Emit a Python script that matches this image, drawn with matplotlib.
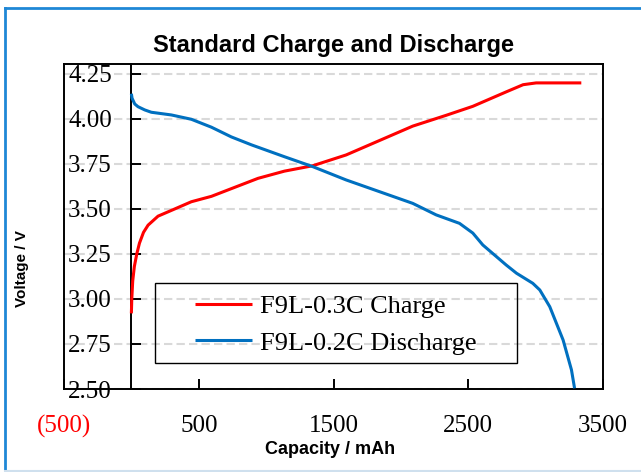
import matplotlib
matplotlib.use("Agg")
import matplotlib.pyplot as plt
from matplotlib.lines import Line2D
from matplotlib.patches import Rectangle

# -----------------------------
# Data
# -----------------------------
charge_cap = [0, 3, 10, 22, 40, 60, 90, 124, 198, 322, 445, 594, 767, 940,
              1136, 1346, 1594, 1841, 2088, 2336, 2534, 2781, 2907, 3004, 3339]
charge_v = [2.92, 3.00, 3.10, 3.18, 3.25, 3.31, 3.37, 3.41, 3.46, 3.50, 3.54,
            3.57, 3.62, 3.67, 3.71, 3.74, 3.80, 3.88, 3.96, 4.02, 4.07, 4.15,
            4.19, 4.20, 4.20]

discharge_cap = [0, 5, 25, 49, 99, 148, 297, 445, 594, 742, 891, 1136, 1346,
                 1594, 1841, 2088, 2262, 2435, 2534, 2608, 2781, 2858, 2979,
                 3031, 3105, 3204, 3266, 3289]
discharge_v = [4.14, 4.115, 4.083, 4.068, 4.05, 4.037, 4.022, 3.998, 3.954,
               3.90, 3.856, 3.79, 3.735, 3.661, 3.596, 3.531, 3.467, 3.42,
               3.366, 3.30, 3.189, 3.143, 3.087, 3.05, 2.957, 2.772, 2.606,
               2.504]

series_labels = ["F9L-0.3C Charge", "F9L-0.2C Discharge"]
series_colors = ["#ff0000", "#0070c0"]

x_ticks = [-500, 500, 1500, 2500, 3500]
x_tick_labels = ["(500)", "500", "1500", "2500", "3500"]
y_ticks = [2.50, 2.75, 3.00, 3.25, 3.50, 3.75, 4.00, 4.25]
y_tick_labels = ["2.50", "2.75", "3.00", "3.25", "3.50", "3.75", "4.00", "4.25"]

SANS = "Liberation Sans"
SERIF = "Liberation Serif"

W, H = 641, 472
fig = plt.figure(figsize=(W / 100, H / 100), dpi=100)
ax = fig.add_axes([64 / W, 1 - 389 / H, 539 / W, 325 / H])

# curves
ax.plot(charge_cap, charge_v, color=series_colors[0], lw=2.2,
        label=series_labels[0], solid_capstyle="butt", zorder=3)
ax.plot(discharge_cap, discharge_v, color=series_colors[1], lw=2.2,
        label=series_labels[1], solid_capstyle="butt", zorder=3)

ax.set_xlim(-500, 3500)
ax.set_ylim(2.5, 4.305)

# y axis sits at capacity 0, frame keeps its left border
ax.spines["left"].set_position(("data", 0))
for s in ax.spines.values():
    s.set_linewidth(1.4)
    s.set_color("black")
ax.add_line(Line2D([0, 0], [0, 1], transform=ax.transAxes, color="black",
                   lw=1.4, clip_on=False))

ax.set_xticks(x_ticks)
ax.set_xticklabels(x_tick_labels, fontfamily=SERIF, fontsize=18)
ax.get_xticklabels()[0].set_color("#ff0000")
ax.set_yticks(y_ticks)
ax.set_yticklabels(y_tick_labels, fontfamily=SERIF, fontsize=18)
ax.tick_params(axis="x", direction="in", length=7.5, width=1.4, pad=19)
ax.tick_params(axis="y", direction="in", length=7.5, width=1.4, pad=14)

ax.yaxis.grid(True, color="#d9d9d9", lw=1.5, ls=(0, (4, 2)))
ax.set_axisbelow(True)

ax.set_title("Standard Charge and Discharge", fontfamily=SANS,
             fontweight="bold", fontsize=17, pad=8.5)
ax.set_xlabel("Capacity / mAh", fontfamily=SANS, fontweight="bold",
              fontsize=13, va="center")
ax.xaxis.set_label_coords(0.4935, -0.186)
ax.set_ylabel("Voltage / V", fontfamily=SANS, fontweight="bold",
              fontsize=11, va="center")
ax.yaxis.set_label_coords(-0.078, 0.372)

# legend with a hand-sized box
leg = ax.legend(loc="center", bbox_to_anchor=(0.5046, 0.198), frameon=False,
                prop={"family": SERIF, "size": 19}, handlelength=2.16,
                handletextpad=0.3, labelspacing=0.5)
for h in leg.get_lines():
    h.set_linewidth(2.2)
ax.add_patch(Rectangle((0.1688, 0.08), 0.6716, 0.246, transform=ax.transAxes,
                       fill=False, edgecolor="black", lw=1.0, zorder=4))

# outer blue border
fig.add_artist(Line2D([5 / W, 1], [1 - 8 / H, 1 - 8 / H],
                      transform=fig.transFigure, color="#1f87d6", lw=2))
fig.add_artist(Line2D([5 / W, 5 / W], [1 - 8 / H, 1 - 471 / H],
                      transform=fig.transFigure, color="#1f87d6", lw=2))
fig.add_artist(Line2D([5 / W, 1], [1 - 470.5 / H, 1 - 470.5 / H],
                      transform=fig.transFigure, color="#cfe0ee", lw=1.5))

fig.savefig("out.png", dpi=100)
